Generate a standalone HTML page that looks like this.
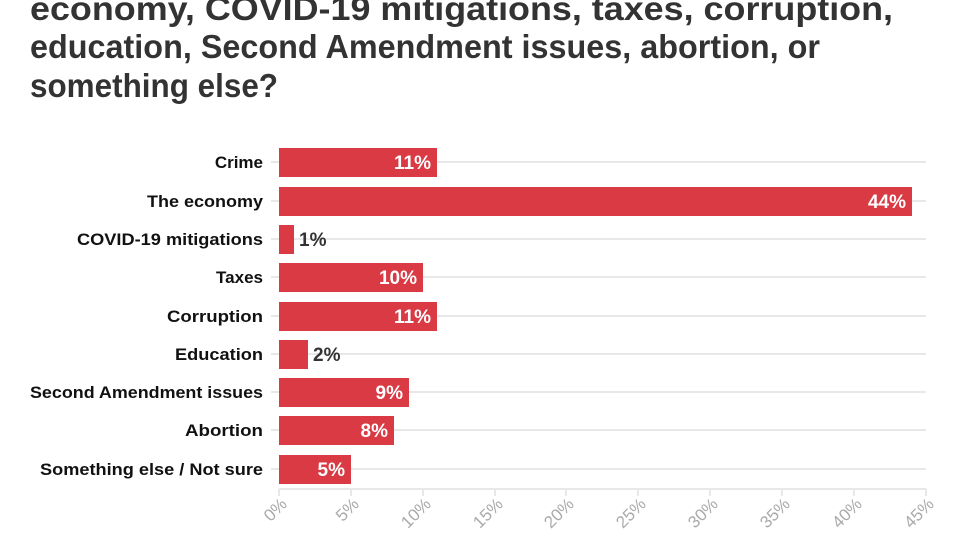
<!DOCTYPE html>
<html><head><style>
html,body{margin:0;padding:0;background:#fff;width:980px;height:550px;overflow:hidden}
svg{display:block;font-family:"Liberation Sans",sans-serif}
</style></head><body>
<svg width="980" height="550" viewBox="0 0 980 550">
<g font-size="33" font-weight="bold" fill="#333">
<text x="30" y="20" textLength="863" lengthAdjust="spacingAndGlyphs">economy, COVID-19 mitigations, taxes, corruption,</text>
<text x="30" y="58" textLength="790" lengthAdjust="spacingAndGlyphs">education, Second Amendment issues, abortion, or</text>
<text x="30" y="97" textLength="248" lengthAdjust="spacingAndGlyphs">something else?</text>
</g>
<g stroke="#e8e8e8" stroke-width="2">
<line x1="271" x2="926" y1="162" y2="162"/>
<line x1="271" x2="926" y1="201" y2="201"/>
<line x1="271" x2="926" y1="239" y2="239"/>
<line x1="271" x2="926" y1="277" y2="277"/>
<line x1="271" x2="926" y1="316" y2="316"/>
<line x1="271" x2="926" y1="354" y2="354"/>
<line x1="271" x2="926" y1="392" y2="392"/>
<line x1="271" x2="926" y1="430" y2="430"/>
<line x1="271" x2="926" y1="469" y2="469"/>
<line x1="279" x2="926" y1="489" y2="489"/>
<line x1="279" x2="279" y1="489" y2="496"/>
<line x1="351" x2="351" y1="489" y2="496"/>
<line x1="423" x2="423" y1="489" y2="496"/>
<line x1="495" x2="495" y1="489" y2="496"/>
<line x1="566" x2="566" y1="489" y2="496"/>
<line x1="638" x2="638" y1="489" y2="496"/>
<line x1="710" x2="710" y1="489" y2="496"/>
<line x1="782" x2="782" y1="489" y2="496"/>
<line x1="854" x2="854" y1="489" y2="496"/>
<line x1="926" x2="926" y1="489" y2="496"/>
</g>
<g fill="#d93a44">
<rect x="279" y="148" width="158" height="29"/>
<rect x="279" y="187" width="633" height="29"/>
<rect x="279" y="225" width="15" height="29"/>
<rect x="279" y="263" width="144" height="29"/>
<rect x="279" y="302" width="158" height="29"/>
<rect x="279" y="340" width="29" height="29"/>
<rect x="279" y="378" width="130" height="29"/>
<rect x="279" y="416" width="115" height="29"/>
<rect x="279" y="455" width="72" height="29"/>
</g>
<g font-size="17" font-weight="bold" fill="#111" text-anchor="end">
<text x="263" y="168">Crime</text>
<text x="263" y="207" textLength="116" lengthAdjust="spacingAndGlyphs">The economy</text>
<text x="263" y="245" textLength="186" lengthAdjust="spacingAndGlyphs">COVID-19 mitigations</text>
<text x="263" y="283">Taxes</text>
<text x="263" y="322" textLength="96" lengthAdjust="spacingAndGlyphs">Corruption</text>
<text x="263" y="360" textLength="88" lengthAdjust="spacingAndGlyphs">Education</text>
<text x="263" y="398" textLength="233" lengthAdjust="spacingAndGlyphs">Second Amendment issues</text>
<text x="263" y="436" textLength="78" lengthAdjust="spacingAndGlyphs">Abortion</text>
<text x="263" y="475" textLength="223" lengthAdjust="spacingAndGlyphs">Something else / Not sure</text>
</g>
<g font-size="19" font-weight="bold" fill="#fff" text-anchor="end">
<text x="431" y="169">11%</text>
<text x="906" y="208">44%</text>
<text x="417" y="284">10%</text>
<text x="431" y="323">11%</text>
<text x="403" y="399">9%</text>
<text x="388" y="437">8%</text>
<text x="345" y="476">5%</text>
</g>
<g font-size="19" font-weight="bold" fill="#333">
<text x="299" y="246">1%</text>
<text x="313" y="361">2%</text>
</g>
<g font-size="17" fill="#aaa" text-anchor="end">
<text transform="translate(288,505) rotate(-45)">0%</text>
<text transform="translate(360,505) rotate(-45)">5%</text>
<text transform="translate(432,505) rotate(-45)">10%</text>
<text transform="translate(504,505) rotate(-45)">15%</text>
<text transform="translate(575,505) rotate(-45)">20%</text>
<text transform="translate(647,505) rotate(-45)">25%</text>
<text transform="translate(719,505) rotate(-45)">30%</text>
<text transform="translate(791,505) rotate(-45)">35%</text>
<text transform="translate(863,505) rotate(-45)">40%</text>
<text transform="translate(935,505) rotate(-45)">45%</text>
</g>
</svg>
</body></html>
